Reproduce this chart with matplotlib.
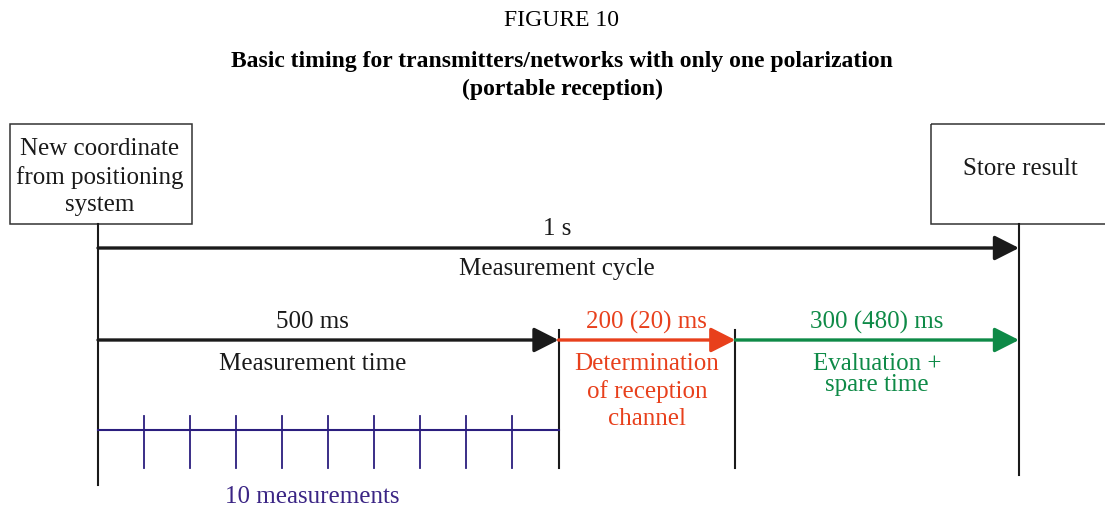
import matplotlib
matplotlib.use("Agg")
import matplotlib.pyplot as plt
import numpy as np

# phases of one measurement cycle
PHASE_LABELS = ["500 ms", "200 (20) ms", "300 (480) ms"]
PHASE_TEXTS = ["Measurement time", "Determination\nof reception\nchannel", "Evaluation +\nspare time"]
PHASE_COLORS = ["#1a1a1a", "#e8401c", "#0e8a47"]
# drawn edges of the phases (schematic, in ms of the cycle)
PHASE_EDGES = [0, 500, 692, 1000]
CYCLE_LABEL = "1 s"
N_MEASUREMENTS = 10

BLACK = "#1a1a1a"
PURPLE = "#2b1e7e"
FONT = "Liberation Serif"
FS = 18

plt.rcParams["font.family"] = [FONT, "DejaVu Serif"]

fig = plt.figure(figsize=(11.05, 5.08), dpi=100)
ax = fig.add_axes([0, 0, 1, 1])
ax.set_xlim(0, 1105)
ax.set_ylim(508, 0)
ax.axis("off")

# ms -> pixel position along the time axis
X0, X1 = 98, 1019
def tx(t):
    return X0 + (X1 - X0) * t / 1000.0

# titles
ax.text(562, 21, "FIGURE 10", ha="center", va="center", fontsize=17)
ax.text(562, 61, "Basic timing for transmitters/networks with only one polarization",
        ha="center", va="center", fontsize=17, fontweight="bold")
ax.text(562, 89, "(portable reception)", ha="center", va="center",
        fontsize=17, fontweight="bold")

# boxes
ax.add_patch(plt.Rectangle((10, 124), 182, 100, fill=False, lw=1.1, ec="#333333"))
ax.text(100, 177, "New coordinate\nfrom positioning\nsystem", ha="center", va="center",
        fontsize=FS, color=BLACK, linespacing=1.3)
ax.add_patch(plt.Rectangle((931, 124), 200, 100, fill=False, lw=1.1, ec="#333333",
                           clip_on=False))
ax.text(1020, 169, "Store result", ha="center", va="center", fontsize=FS, color=BLACK)

# vertical lines
ax.plot([tx(0), tx(0)], [224, 485], color=BLACK, lw=1.5)
ax.plot([tx(1000), tx(1000)], [224, 475], color=BLACK, lw=1.5)
for t in PHASE_EDGES[1:3]:
    ax.plot([tx(t), tx(t)], [330, 468], color=BLACK, lw=1.5)

def arrow(xa, xb, y, color):
    ax.annotate("", xy=(xb, y), xytext=(xa, y),
                arrowprops=dict(arrowstyle="-|>,head_length=0.75,head_width=0.38",
                                color=color, lw=2.4, shrinkA=0, shrinkB=0,
                                mutation_scale=20))

# full cycle
arrow(tx(0), tx(1000), 248, BLACK)
ax.text(557, 229, CYCLE_LABEL, ha="center", va="center", fontsize=FS, color=BLACK)
ax.text(557, 269, "Measurement cycle", ha="center", va="center", fontsize=FS, color=BLACK)

# phases
for i, (lab, txt, col) in enumerate(zip(PHASE_LABELS, PHASE_TEXTS, PHASE_COLORS)):
    xa, xb = tx(PHASE_EDGES[i]), tx(PHASE_EDGES[i + 1])
    arrow(xa, xb, 340, col)
    xc = (xa + xb) / 2 + (-16 if i == 0 else 0)
    tcol = BLACK if i == 0 else col
    ax.text(xc, 322, lab, ha="center", va="center", fontsize=FS, color=tcol)
    ls = 0.95 if i == 2 else 1.3
    ax.text(xc, 353, txt, ha="center", va="top", fontsize=FS, color=tcol, linespacing=ls)

# measurement ticks
xm0, xm1 = tx(PHASE_EDGES[0]), tx(PHASE_EDGES[1])
ax.plot([xm0, xm1], [430, 430], color=PURPLE, lw=1.5)
for xt in np.linspace(xm0, xm1, N_MEASUREMENTS + 1)[1:-1]:
    ax.plot([xt, xt], [416, 468], color=PURPLE, lw=1.3)
ax.text(312, 497, "%d measurements" % N_MEASUREMENTS, ha="center", va="center",
        fontsize=FS, color="#3b2585")

fig.savefig("out.png", dpi=100)
